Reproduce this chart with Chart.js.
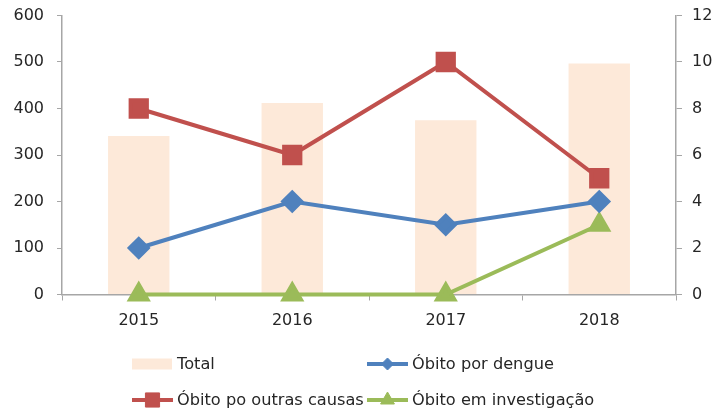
<!DOCTYPE html>
<html>
<head>
<meta charset="utf-8">
<script src="https://cdn.jsdelivr.net/npm/chart.js@4"></script>
<style>
  html, body { margin: 0; padding: 0; background: #fff; }
  #box { width: 725px; height: 413px; }
</style>
</head>
<body>
<div id="box"><canvas id="grafico"></canvas></div>
<script>
// dados
const anos = ['2015', '2016', '2017', '2018'];
const total = [341, 412, 375, 497];
const obitoDengue = [2, 4, 3, 4];
const obitoOutras = [8, 6, 10, 5];
const obitoInvestigacao = [0, 0, 0, 3];

const fonte = { family: 'DejaVu Sans', size: 16 };
const fonteLegenda = { family: 'DejaVu Sans', size: 16.2 };
const corTexto = '#262626';
const corEixo = '#a6a6a6';

// legenda em duas colunas, desenhada no canvas
const legendaDuasColunas = {
  id: 'legendaDuasColunas',
  afterDraw(chart) {
    const ctx = chart.ctx;
    const colunas = [132, 367];
    const linhas = [364, 400];
    chart.data.datasets.forEach((ds, i) => {
      const x = colunas[i % 2];
      const y = linhas[Math.floor(i / 2)];
      ctx.save();
      if (ds.type === 'bar') {
        ctx.fillStyle = ds.backgroundColor;
        ctx.fillRect(x, y - 5.5, 40, 11);
      } else {
        ctx.strokeStyle = ds.borderColor;
        ctx.lineWidth = 4;
        ctx.beginPath();
        ctx.moveTo(x, y);
        ctx.lineTo(x + 41, y);
        ctx.stroke();
        ctx.fillStyle = ds.pointBackgroundColor;
        ctx.strokeStyle = ds.pointBorderColor;
        ctx.lineWidth = 1;
        Chart.helpers.drawPoint(ctx, {
          pointStyle: ds.pointStyle,
          radius: ds.legendRadius,
          rotation: 0,
          borderWidth: 1
        }, x + 20.5, y);
      }
      ctx.fillStyle = corTexto;
      ctx.font = fonteLegenda.size + 'px "' + fonteLegenda.family + '"';
      ctx.textBaseline = 'middle';
      ctx.textAlign = 'left';
      ctx.fillText(ds.label, x + 45, y + 1);
      ctx.restore();
    });
  }
};

// tira o espaço extra que o Chart.js reserva acima do eixo vertical
function semPaddingVertical(scale) {
  scale.paddingTop = 0;
  scale.paddingBottom = 0;
}

const ctx = document.getElementById('grafico').getContext('2d');
const grafico = new Chart(ctx, {
  data: {
    labels: anos,
    datasets: [
      {
        type: 'bar',
        label: 'Total',
        data: total,
        yAxisID: 'y',
        backgroundColor: '#fde9d9',
        barPercentage: 0.4,
        categoryPercentage: 1,
        order: 5
      },
      {
        type: 'line',
        label: 'Óbito por dengue',
        data: obitoDengue,
        yAxisID: 'y1',
        borderColor: '#4f81bd',
        backgroundColor: '#4f81bd',
        pointBackgroundColor: '#4f81bd',
        pointBorderColor: '#4f81bd',
        borderWidth: 4,
        pointStyle: 'rectRot',
        pointRadius: 9,
        legendRadius: 6,
        tension: 0,
        clip: false,
        order: 1
      },
      {
        type: 'line',
        label: 'Óbito po outras causas',
        data: obitoOutras,
        yAxisID: 'y1',
        borderColor: '#c0504d',
        backgroundColor: '#c0504d',
        pointBackgroundColor: '#c0504d',
        pointBorderColor: '#c0504d',
        borderWidth: 4,
        pointStyle: 'rect',
        pointRadius: 11.5,
        legendRadius: 10,
        tension: 0,
        clip: false,
        order: 1
      },
      {
        type: 'line',
        label: 'Óbito em investigação',
        data: obitoInvestigacao,
        yAxisID: 'y1',
        borderColor: '#9bbb59',
        backgroundColor: '#9bbb59',
        pointBackgroundColor: '#9bbb59',
        pointBorderColor: '#9bbb59',
        borderWidth: 4,
        pointStyle: 'triangle',
        pointRadius: 10,
        legendRadius: 8,
        tension: 0,
        clip: false,
        order: 1
      }
    ]
  },
  options: {
    responsive: true,
    maintainAspectRatio: false,
    animation: false,
    layout: { padding: { top: 14, bottom: 78, left: 0, right: 0 } },
    plugins: {
      legend: { display: false },
      tooltip: { enabled: false }
    },
    scales: {
      x: {
        offset: true,
        grid: { display: true, drawOnChartArea: false, offset: true, tickLength: 6, color: corEixo },
        border: { color: corEixo, width: 1.5 },
        ticks: { color: corTexto, font: fonte, padding: 11 },
        afterFit(scale) { scale.height = 40.5; }
      },
      y: {
        position: 'left',
        min: 0,
        max: 600,
        grid: { drawOnChartArea: false, tickLength: 5, color: corEixo },
        border: { color: corEixo, width: 1.5 },
        ticks: { stepSize: 100, color: corTexto, font: fonte, padding: 13 },
        afterFit(scale) { scale.width = 62; semPaddingVertical(scale); }
      },
      y1: {
        position: 'right',
        min: 0,
        max: 12,
        grid: { drawOnChartArea: false, tickLength: 6, color: corEixo },
        border: { color: corEixo, width: 1.5 },
        ticks: { stepSize: 2, color: corTexto, font: fonte, padding: 10 },
        afterFit(scale) { scale.width = 49; semPaddingVertical(scale); }
      }
    }
  },
  plugins: [legendaDuasColunas]
});
</script>
</body>
</html>
